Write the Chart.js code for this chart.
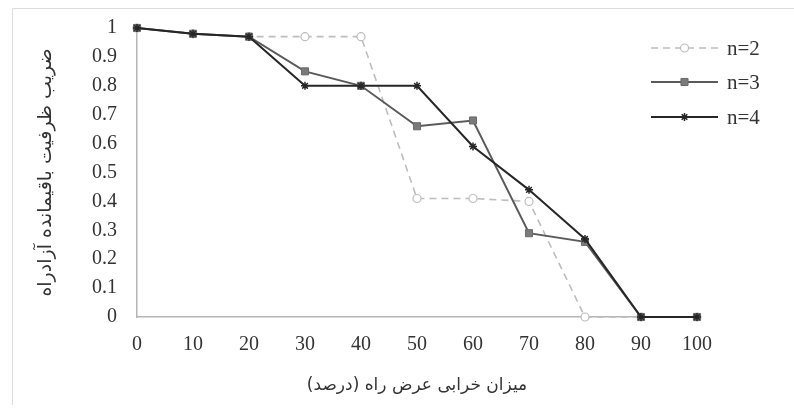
<!DOCTYPE html>
<html>
<head>
<meta charset="utf-8">
<script src="https://cdn.jsdelivr.net/npm/chart.js@4.4.1/dist/chart.umd.min.js"></script>
<style>
  html, body { margin: 0; padding: 0; background: #fff; }
  #wrap { width: 794px; height: 412px; position: relative; }
</style>
</head>
<body>
<div id="wrap"><canvas id="chart"></canvas></div>
<script>
// damage percentage (x) and remaining capacity factor per n
const damage = [0, 10, 20, 30, 40, 50, 60, 70, 80, 90, 100];
const n2 = [1, 0.98, 0.97, 0.97, 0.97, 0.41, 0.41, 0.40, 0, 0, 0];
const n3 = [1, 0.98, 0.97, 0.85, 0.80, 0.66, 0.68, 0.29, 0.26, 0, 0];
const n4 = [1, 0.98, 0.97, 0.80, 0.80, 0.80, 0.59, 0.44, 0.27, 0, 0];
const seriesNames = ['n=2', 'n=3', 'n=4'];

const yTitle = 'ضریب ظرفیت باقیمانده آزادراه';
const xTitle = 'میزان خرابی عرض راه (درصد)';

function toPoints(vals) {
    return damage.map((d, i) => ({ x: d, y: vals[i] }));
}

// legend drawn with line + marker like the original
const sideLegend = {
    id: 'sideLegend',
    afterDraw(chart) {
        const ctx = chart.ctx;
        const x1 = 651, x2 = 718;
        const ys = [48, 82, 117];
        chart.data.datasets.forEach((ds, i) => {
            const y = ys[i];
            const cx = (x1 + x2) / 2;
            ctx.save();
            ctx.strokeStyle = ds.borderColor;
            ctx.lineWidth = ds.borderWidth;
            ctx.setLineDash(ds.borderDash || []);
            ctx.beginPath();
            ctx.moveTo(x1, y);
            ctx.lineTo(x2, y);
            ctx.stroke();
            ctx.setLineDash([]);
            ctx.fillStyle = ds.pointBackgroundColor;
            ctx.strokeStyle = ds.pointBorderColor;
            ctx.lineWidth = ds.pointBorderWidth || 1;
            Chart.helpers.drawPoint(ctx, {
                pointStyle: ds.pointStyle,
                radius: ds.pointRadius,
                borderWidth: ds.pointBorderWidth || 1
            }, cx, y);
            ctx.restore();
            ctx.save();
            ctx.fillStyle = '#333';
            ctx.font = '21px "Liberation Serif"';
            ctx.textBaseline = 'middle';
            ctx.fillText(ds.label, 727, y + 1);
            ctx.restore();
        });
    }
};

// faint frame on top and left like the source image
const frame = {
    id: 'frame',
    beforeDraw(chart) {
        const ctx = chart.ctx;
        ctx.save();
        ctx.strokeStyle = '#dcdcdc';
        ctx.lineWidth = 1;
        ctx.beginPath();
        ctx.moveTo(12.5, 405);
        ctx.lineTo(12.5, 8.5);
        ctx.lineTo(794, 8.5);
        ctx.stroke();
        ctx.restore();
    }
};

const ctx = document.getElementById('chart').getContext('2d');
new Chart(ctx, {
    type: 'line',
    data: {
        datasets: [{
            label: seriesNames[0],
            data: toPoints(n2),
            order: 3,
            borderColor: '#bdbdbd',
            borderWidth: 1.6,
            borderDash: [7, 5],
            pointStyle: 'circle',
            pointRadius: 4,
            pointBackgroundColor: '#fff',
            pointBorderColor: '#bdbdbd',
            pointBorderWidth: 1.2,
            tension: 0
        }, {
            label: seriesNames[1],
            data: toPoints(n3),
            order: 2,
            borderColor: '#5a5a5a',
            borderWidth: 2,
            pointStyle: 'rect',
            pointRadius: 5,
            pointBackgroundColor: '#7a7a7a',
            pointBorderColor: '#6a6a6a',
            pointBorderWidth: 1,
            tension: 0
        }, {
            label: seriesNames[2],
            data: toPoints(n4),
            order: 1,
            borderColor: '#262626',
            borderWidth: 2,
            pointStyle: 'star',
            pointRadius: 4,
            pointBackgroundColor: '#262626',
            pointBorderColor: '#262626',
            pointBorderWidth: 1.5,
            tension: 0
        }]
    },
    options: {
        responsive: true,
        maintainAspectRatio: false,
        animation: false,
        clip: false,
        layout: { padding: { left: 35, top: 28, right: 97, bottom: 16 } },
        plugins: {
            legend: { display: false },
            tooltip: { enabled: false }
        },
        scales: {
            x: {
                type: 'linear',
                min: 0,
                max: 100,
                border: { display: true, color: '#b5b5b5', width: 1.5 },
                grid: { display: false, drawTicks: false },
                ticks: {
                    stepSize: 10,
                    padding: 16,
                    color: '#333',
                    font: { family: '"Liberation Serif"', size: 20 }
                },
                title: {
                    display: true,
                    text: xTitle,
                    color: '#333',
                    padding: { top: 0, bottom: 0 },
                    font: { family: '"DejaVu Sans"', size: 17 }
                },
                afterFit(scale) { scale.height = 79; }
            },
            y: {
                min: 0,
                max: 1,
                border: { display: true, color: '#b5b5b5', width: 1.5 },
                grid: { display: false, drawTicks: false },
                ticks: {
                    stepSize: 0.1,
                    padding: 20,
                    color: '#333',
                    font: { family: '"Liberation Serif"', size: 20 },
                    callback: v => String(Math.round(v * 10) / 10)
                },
                title: {
                    display: true,
                    text: yTitle,
                    color: '#333',
                    padding: { top: 0, bottom: 0 },
                    font: { family: '"DejaVu Sans"', size: 19 }
                },
                afterFit(scale) {
                    scale.width = 102;
                    scale.paddingTop = 0;
                    scale.paddingBottom = 0;
                }
            }
        }
    },
    plugins: [frame, sideLegend]
});
</script>
</body>
</html>
